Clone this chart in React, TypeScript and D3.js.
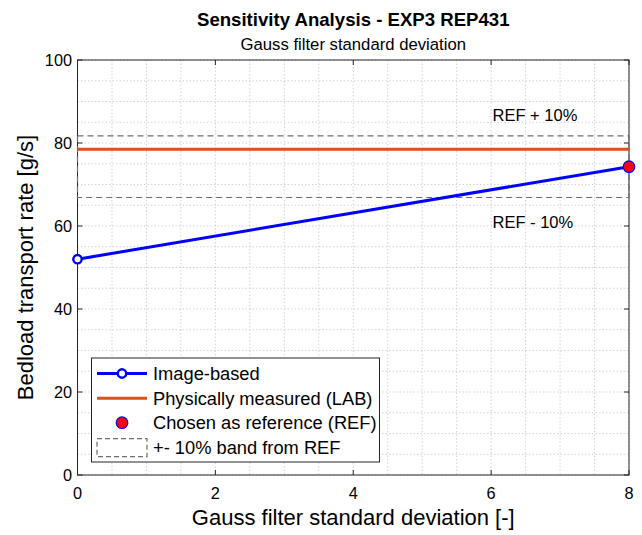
import React from "react";
import * as d3 from "d3";

const W = 642;
const H = 535;

const sigmaValues = [0, 8];
const imageBased = [52.0, 74.3];
const labMeasured = 78.5;
const refIndex = 1;
const bandPct = 0.1;
const xTicks = [0, 2, 4, 6, 8];
const yTicks = [0, 20, 40, 60, 80, 100];
const legendLabels = [
  "Image-based",
  "Physically measured (LAB)",
  "Chosen as reference (REF)",
  "+- 10% band from REF",
];

const FONT = "'Liberation Sans', Arial, Helvetica, sans-serif";

export default function App() {
  const m = { left: 77.5, right: 629, top: 60, bottom: 475 };
  const x = d3.scaleLinear().domain([0, 8]).range([m.left, m.right]);
  const y = d3.scaleLinear().domain([0, 100]).range([m.bottom, m.top]);

  const ref = imageBased[refIndex];
  const up = ref * (1 + bandPct);
  const lo = ref * (1 - bandPct);

  const minorX = d3.range(0, 8.001, 0.5);
  const minorY = d3.range(0, 100.001, 5);

  const line = d3
    .line<number>()
    .x((_, i) => x(sigmaValues[i]))
    .y((d) => y(d));

  const axisColor = "#262626";
  const gridColor = "#c8c8c8";
  const blue = "#0000ff";
  const orange = "#d95319";

  const lg = { x: 91.5, y: 358, w: 288, h: 104 };
  const rowY = [373.5, 398.3, 422.7, 447.7];

  return (
    <svg width={W} height={H} style={{ position: "absolute", left: 0, top: 0, background: "#fff" }} fontFamily={FONT}>
      <rect width={W} height={H} fill="#fff" />
      {/* grid */}
      <g stroke={gridColor} strokeWidth={0.8} strokeDasharray="1.5,2">
        {minorX.map((v) => (
          <line key={"gx" + v} x1={x(v)} x2={x(v)} y1={m.top} y2={m.bottom} />
        ))}
        {minorY.map((v) => (
          <line key={"gy" + v} x1={m.left} x2={m.right} y1={y(v)} y2={y(v)} />
        ))}
      </g>
      {/* box */}
      <rect x={m.left} y={m.top} width={m.right - m.left} height={m.bottom - m.top} fill="none" stroke={axisColor} strokeWidth={1} />
      {/* ticks */}
      <g stroke={axisColor} strokeWidth={1}>
        {xTicks.map((v) => (
          <g key={"tx" + v}>
            <line x1={x(v)} x2={x(v)} y1={m.bottom} y2={m.bottom - 5} />
            <line x1={x(v)} x2={x(v)} y1={m.top} y2={m.top + 5} />
          </g>
        ))}
        {yTicks.map((v) => (
          <g key={"ty" + v}>
            <line x1={m.left} x2={m.left + 5} y1={y(v)} y2={y(v)} />
            <line x1={m.right} x2={m.right - 5} y1={y(v)} y2={y(v)} />
          </g>
        ))}
      </g>
      {/* tick labels */}
      <g fontSize={16.3} fill="#000">
        {xTicks.map((v) => (
          <text key={"lx" + v} x={x(v)} y={498.5} textAnchor="middle">
            {v}
          </text>
        ))}
        {yTicks.map((v) => (
          <text key={"ly" + v} x={m.left - 5.5} y={y(v) + 6} textAnchor="end">
            {v}
          </text>
        ))}
      </g>
      {/* band */}
      <rect x={x(0)} y={y(up)} width={x(8) - x(0)} height={y(lo) - y(up)} fill="none" stroke="#6e6e6e" strokeWidth={1.2} strokeDasharray="6,4" />
      {/* LAB */}
      <line x1={x(0)} x2={x(8)} y1={y(labMeasured)} y2={y(labMeasured)} stroke={orange} strokeWidth={3} />
      {/* image based */}
      <path d={line(imageBased) || ""} fill="none" stroke={blue} strokeWidth={3} />
      {imageBased.map((v, i) => (
        <circle key={"pt" + i} cx={x(sigmaValues[i])} cy={y(v)} r={4.2} fill="#fff" stroke={blue} strokeWidth={2.4} />
      ))}
      <circle cx={x(sigmaValues[refIndex])} cy={y(ref)} r={5.8} fill="#ff0000" stroke={blue} strokeWidth={1.2} />
      {/* band labels */}
      <text x={x(6.02)} y={y(up + 5) + 6} fontSize={16.5}>REF + 10%</text>
      <text x={x(6.02)} y={y(lo - 6) + 6} fontSize={16.5}>REF - 10%</text>
      {/* legend */}
      <rect x={lg.x} y={lg.y} width={lg.w} height={lg.h} fill="#fff" stroke={axisColor} strokeWidth={1} />
      <line x1={97} x2={147} y1={rowY[0]} y2={rowY[0]} stroke={blue} strokeWidth={3} />
      <circle cx={122} cy={rowY[0]} r={4.2} fill="#fff" stroke={blue} strokeWidth={2.4} />
      <line x1={97} x2={147} y1={rowY[1]} y2={rowY[1]} stroke={orange} strokeWidth={3} />
      <circle cx={122} cy={rowY[2]} r={5.8} fill="#ff0000" stroke={blue} strokeWidth={1.2} />
      <rect x={97} y={rowY[3] - 9} width={50} height={18} fill="none" stroke="#6e6e6e" strokeWidth={1.2} strokeDasharray="5,3" />
      <g fontSize={18.3} fill="#000">
        {legendLabels.map((t, i) => (
          <text key={t} x={153} y={rowY[i] + 6.5}>
            {t}
          </text>
        ))}
      </g>
      {/* titles */}
      <text x={(m.left + m.right) / 2} y={26} textAnchor="middle" fontSize={18.6} fontWeight="bold">
        Sensitivity Analysis - EXP3 REP431
      </text>
      <text x={(m.left + m.right) / 2} y={50} textAnchor="middle" fontSize={16.7}>
        Gauss filter standard deviation
      </text>
      <text x={(m.left + m.right) / 2} y={525} textAnchor="middle" fontSize={22}>
        Gauss filter standard deviation [-]
      </text>
      <text transform={`translate(33, ${(m.top + m.bottom) / 2}) rotate(-90)`} textAnchor="middle" fontSize={22}>
        Bedload transport rate [g/s]
      </text>
    </svg>
  );
}
